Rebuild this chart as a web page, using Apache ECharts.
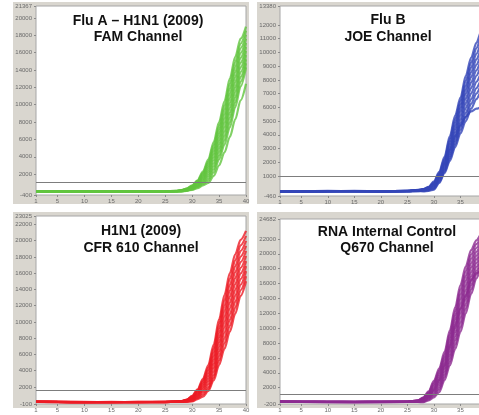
<!DOCTYPE html>
<html><head><meta charset="utf-8">
<script src="https://cdn.jsdelivr.net/npm/echarts@6/dist/echarts.min.js"></script>
<style>html,body{margin:0;padding:0;background:#fff}#c{width:479px;height:415px}</style>
</head><body><div id="c"></div>
<script>
// ---- data ----
const cycles = [1, 5, 10, 15, 20, 25, 27, 28, 29, 30, 31, 32, 33, 34, 35, 36, 37, 38, 39, 40];
const cycleTicks = [1, 5, 10, 15, 20, 25, 30, 35, 40];

const famTicks = [-400, 2000, 4000, 6000, 8000, 10000, 12000, 14000, 16000, 18000, 20000, 21367];
const famThreshold = 1100;
const famCurves = [
  [40, 20, 10, 20, 10, 30, 80, 150, 350, 700, 1300, 2300, 3700, 5700, 8000, 10400, 13000, 15500, 17600, 19000],
  [35, 15, 5, 15, 15, 25, 70, 135, 325, 655, 1220, 2150, 3450, 5350, 7570, 9900, 12440, 14920, 17050, 18530],
  [30, 10, 0, 10, 20, 20, 60, 120, 300, 610, 1140, 2010, 3210, 5000, 7140, 9400, 11880, 14340, 16500, 18060],
  [40, 20, 10, 5, 15, 15, 55, 110, 275, 565, 1060, 1865, 2965, 4650, 6710, 8900, 11320, 13760, 15950, 17590],
  [50, 30, 20, 0, 10, 10, 50, 100, 250, 520, 980, 1720, 2720, 4300, 6280, 8400, 10760, 13180, 15400, 17120],
  [35, 15, 15, 5, 5, 15, 45, 85, 225, 475, 900, 1570, 2475, 3950, 5850, 7900, 10200, 12600, 14850, 16650],
  [20, 0, 10, 10, 0, 20, 40, 70, 200, 430, 820, 1420, 2230, 3600, 5420, 7400, 9640, 12020, 14300, 16180],
  [25, 10, 5, 15, 5, 10, 35, 60, 175, 385, 740, 1280, 1985, 3250, 4990, 6900, 9080, 11440, 13750, 15710],
  [30, 20, 0, 20, 10, 0, 30, 50, 150, 340, 660, 1140, 1740, 2900, 4560, 6400, 8520, 10860, 13200, 15240],
  [35, 15, 10, 15, 5, 5, 25, 35, 125, 295, 580, 995, 1495, 2550, 4130, 5900, 7960, 10280, 12650, 14770],
  [40, 10, 20, 10, 0, 10, 20, 20, 100, 250, 500, 850, 1250, 2200, 3700, 5400, 7400, 9700, 12100, 14300],
  [20, 10, 10, 0, 10, 10, 20, 20, 80, 200, 400, 700, 1000, 1800, 3000, 4500, 6300, 8300, 10500, 12400]
];

const joeTicks = [-460, 1000, 2000, 3000, 4000, 5000, 6000, 7000, 8000, 9000, 10000, 11000, 12000, 13380];
const joeThreshold = 1000;
const joeCurves = [
  [-150, -120, -100, -90, -110, -80, -20, 50, 200, 600, 1300, 2400, 3900, 5400, 6700, 8300, 9600, 10700, 11600, 12200],
  [-145, -125, -105, -95, -115, -85, -30, 35, 175, 540, 1200, 2250, 3700, 5150, 6450, 7950, 9250, 10300, 11150, 11750],
  [-140, -130, -110, -100, -120, -90, -40, 20, 150, 480, 1100, 2100, 3500, 4900, 6200, 7600, 8900, 9900, 10700, 11300],
  [-145, -120, -100, -105, -125, -95, -50, 10, 125, 420, 1025, 1975, 3300, 4650, 5950, 7300, 8550, 9500, 10250, 10850],
  [-150, -110, -90, -110, -130, -100, -60, 0, 100, 360, 950, 1850, 3100, 4400, 5700, 7000, 8200, 9100, 9800, 10400],
  [-155, -125, -105, -105, -120, -100, -65, -15, 75, 305, 875, 1725, 2900, 4150, 5400, 6650, 7800, 8700, 9400, 9950],
  [-160, -140, -120, -100, -110, -100, -70, -30, 50, 250, 800, 1600, 2700, 3900, 5100, 6300, 7400, 8300, 9000, 9500],
  [-150, -130, -110, -110, -120, -105, -80, -45, 25, 185, 725, 1500, 2550, 3700, 4850, 5950, 7000, 7850, 8500, 9050],
  [-140, -120, -100, -120, -130, -110, -90, -60, 0, 120, 650, 1400, 2400, 3500, 4600, 5600, 6600, 7400, 8000, 8600],
  [-145, -130, -115, -115, -125, -115, -100, -90, -45, 60, 575, 1300, 2250, 3300, 4350, 5300, 6250, 7000, 7600, 8150],
  [-150, -140, -130, -110, -120, -120, -110, -120, -90, 0, 500, 1200, 2100, 3100, 4100, 5000, 5900, 6600, 7200, 7700],
  [-150, -130, -110, -100, -110, -90, -50, 10, 80, 400, 1000, 1900, 2900, 3900, 4700, 5300, 5700, 5900, 6000, 6050]
];

const cfrTicks = [-100, 2000, 4000, 6000, 8000, 10000, 12000, 14000, 16000, 18000, 20000, 22000, 23025];
const cfrThreshold = 1600;
const cfrCurves = [
  [180, 160, 150, 140, 150, 160, 200, 250, 450, 900, 1700, 3000, 4700, 7200, 10300, 13300, 16000, 18300, 20100, 21200],
  [175, 155, 145, 145, 145, 155, 195, 240, 425, 830, 1580, 2790, 4360, 6730, 9740, 12640, 15280, 17570, 19410, 20580],
  [170, 150, 140, 150, 140, 150, 190, 230, 400, 760, 1460, 2580, 4020, 6260, 9180, 11980, 14560, 16840, 18720, 19960],
  [165, 150, 135, 145, 145, 145, 185, 220, 370, 695, 1340, 2370, 3680, 5790, 8620, 11320, 13840, 16110, 18030, 19340],
  [160, 150, 130, 140, 150, 140, 180, 210, 340, 630, 1220, 2160, 3340, 5320, 8060, 10660, 13120, 15380, 17340, 18720],
  [170, 145, 135, 135, 145, 145, 175, 200, 315, 560, 1100, 1950, 3000, 4850, 7500, 10000, 12400, 14650, 16650, 18100],
  [180, 140, 140, 130, 140, 150, 170, 190, 290, 490, 980, 1740, 2660, 4380, 6940, 9340, 11680, 13920, 15960, 17480],
  [165, 145, 135, 135, 135, 145, 165, 180, 260, 425, 860, 1530, 2320, 3910, 6380, 8680, 10960, 13190, 15270, 16860],
  [150, 150, 130, 140, 130, 140, 160, 170, 230, 360, 740, 1320, 1980, 3440, 5820, 8020, 10240, 12460, 14580, 16240],
  [160, 145, 135, 135, 135, 140, 155, 160, 200, 290, 620, 1060, 1740, 3120, 5260, 7360, 9520, 11730, 13890, 15620],
  [170, 140, 140, 130, 140, 140, 150, 150, 170, 220, 500, 800, 1500, 2800, 4700, 6700, 8800, 11000, 13200, 15000]
];

const q670Ticks = [-200, 2000, 4000, 6000, 8000, 10000, 12000, 14000, 16000, 18000, 20000, 22000, 24682];
const q670Threshold = 1150;
const q670Curves = [
  [120, 100, 90, 80, 90, 110, 300, 700, 1500, 2900, 4600, 6800, 9700, 12800, 15800, 18300, 20500, 21800, 22700, 23300],
  [115, 95, 85, 75, 85, 105, 275, 635, 1380, 2680, 4280, 6420, 9230, 12240, 15170, 17670, 19910, 21290, 22250, 22870],
  [110, 90, 80, 70, 80, 100, 250, 570, 1260, 2460, 3960, 6040, 8760, 11680, 14540, 17040, 19320, 20780, 21800, 22440],
  [105, 85, 75, 75, 75, 95, 225, 505, 1140, 2240, 3640, 5660, 8290, 11120, 13910, 16410, 18730, 20270, 21350, 22010],
  [100, 80, 70, 80, 70, 90, 200, 440, 1020, 2020, 3320, 5280, 7820, 10560, 13280, 15780, 18140, 19760, 20900, 21580],
  [95, 85, 75, 75, 75, 85, 180, 375, 900, 1800, 3000, 4900, 7350, 10000, 12650, 15150, 17550, 19250, 20450, 21150],
  [90, 90, 80, 70, 80, 80, 160, 310, 780, 1580, 2680, 4520, 6880, 9440, 12020, 14520, 16960, 18740, 20000, 20720],
  [95, 85, 75, 65, 75, 80, 140, 245, 660, 1360, 2360, 4140, 6410, 8880, 11390, 13890, 16370, 18230, 19550, 20290],
  [100, 80, 70, 60, 70, 80, 120, 180, 540, 1140, 2040, 3760, 5940, 8320, 10760, 13260, 15780, 17720, 19100, 19860],
  [95, 75, 65, 65, 65, 75, 100, 115, 420, 920, 1720, 3380, 5470, 7760, 10130, 12630, 15190, 17210, 18650, 19430],
  [90, 70, 60, 70, 60, 70, 80, 50, 300, 700, 1400, 3000, 5000, 7200, 9500, 12000, 14600, 16700, 18200, 19000],
  [100, 80, 70, 70, 80, 90, 150, 300, 800, 1700, 3000, 5000, 7600, 10300, 12600, 14300, 16500, 17400, 17700, 17800]
];

const titles = [
  ['Flu A \u2013 H1N1 (2009)', 'FAM Channel'],
  ['Flu B', 'JOE Channel'],
  ['H1N1 (2009)', 'CFR 610 Channel'],
  ['RNA Internal Control', 'Q670 Channel']
];

// ---- layout / style ----
const panels = [
  { ticks: famTicks, curves: famCurves, thr: famThreshold, color: '#62c43e',
    grid: { left: 36, top: 6, width: 210, height: 189 },
    frame: { x: 13, y: 2, width: 236, height: 202 }, tx: 138, ty: [21, 37] },
  { ticks: joeTicks, curves: joeCurves, thr: joeThreshold, color: '#3446b8',
    grid: { left: 280, top: 6, width: 207, height: 190 },
    frame: { x: 257, y: 2, width: 240, height: 202 }, tx: 388, ty: [20, 37] },
  { ticks: cfrTicks, curves: cfrCurves, thr: cfrThreshold, color: '#ec1c24',
    grid: { left: 36, top: 216, width: 210, height: 188 },
    frame: { x: 13, y: 212, width: 236, height: 196 }, tx: 141, ty: [231, 248] },
  { ticks: q670Ticks, curves: q670Curves, thr: q670Threshold, color: '#8c2a90',
    grid: { left: 280, top: 219, width: 207, height: 185 },
    frame: { x: 257, y: 212, width: 240, height: 196 }, tx: 387, ty: [232, 248] }
];

const chart = echarts.init(document.getElementById('c'), null, { renderer: 'canvas' });

const grid = [], xAxis = [], yAxis = [], series = [], graphic = [];
panels.forEach((p, i) => {
  grid.push(Object.assign({ show: true, backgroundColor: '#ffffff', borderColor: '#a6a6a6', borderWidth: 1,
                            containLabel: false, outerBoundsMode: 'none' }, p.grid));
  xAxis.push({
    type: 'value', gridIndex: i, min: 1, max: 40, position: 'bottom',
    axisLine: { show: false, onZero: false }, splitLine: { show: false },
    axisTick: { show: true, customValues: cycleTicks, length: 2, lineStyle: { color: '#8a8a8a' } },
    axisLabel: { customValues: cycleTicks, fontSize: 6, color: '#6a6a6a', margin: 3, formatter: v => String(v) }
  });
  yAxis.push({
    type: 'value', gridIndex: i, min: p.ticks[0], max: p.ticks[p.ticks.length - 1], position: 'left',
    axisLine: { show: false, onZero: false }, splitLine: { show: false },
    axisTick: { show: true, customValues: p.ticks, length: 2, lineStyle: { color: '#8a8a8a' } },
    axisLabel: { customValues: p.ticks, fontSize: 6, color: '#6a6a6a', margin: 4, formatter: v => String(v) }
  });
  p.curves.forEach((curve, k) => {
    const s = {
      type: 'line', xAxisIndex: i, yAxisIndex: i,
      data: cycles.map((c, j) => [c, curve[j]]),
      symbol: 'none', smooth: 0.3, smoothMonotone: 'x', silent: true,
      lineStyle: { color: p.color, width: 2.2, opacity: 0.8 }
    };
    if (k === 0) {
      s.markLine = {
        silent: true, symbol: 'none', label: { show: false },
        lineStyle: { color: '#7d7d7d', width: 1, type: 'solid' },
        data: [{ yAxis: p.thr }]
      };
    }
    series.push(s);
  });
  graphic.push({ type: 'rect', z: -10, shape: p.frame, style: { fill: '#d9d6cf' } });
  titles[i].forEach((t, j) => {
    graphic.push({
      type: 'text', z: 100, x: p.tx, y: p.ty[j],
      style: { text: t, align: 'center', verticalAlign: 'middle', fill: '#111',
               font: 'bold 14px "Liberation Sans", Arial, sans-serif' }
    });
  });
});

chart.setOption({
  animation: false,
  backgroundColor: '#ffffff',
  grid, xAxis, yAxis, series, graphic
});
</script>
</body></html>
